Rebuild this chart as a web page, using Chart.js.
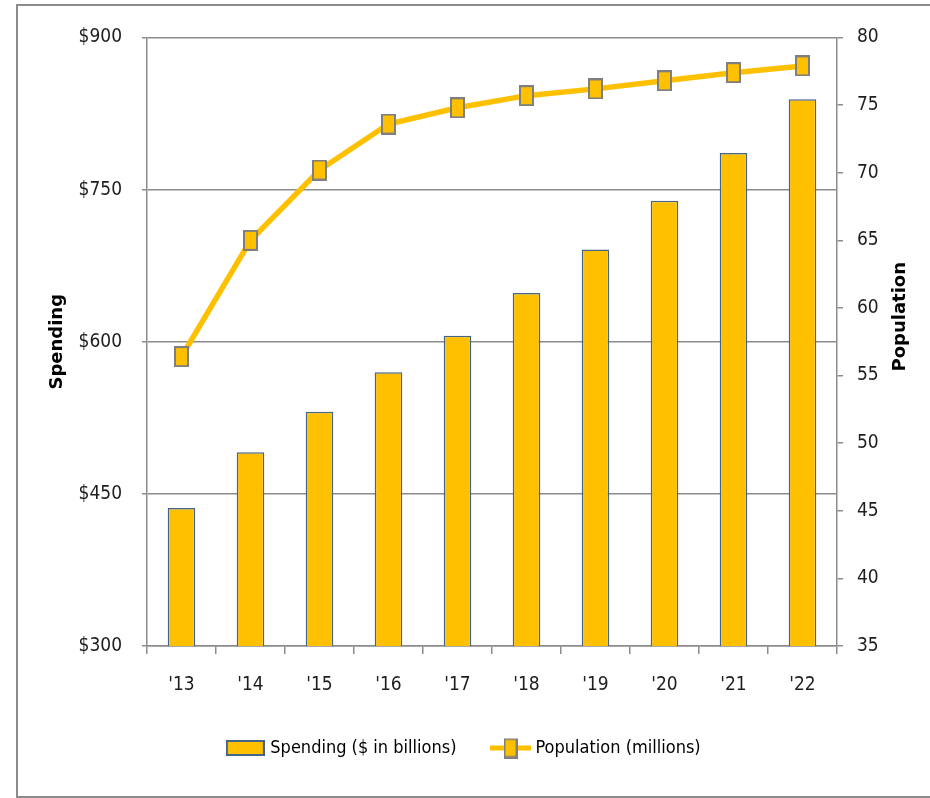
<!DOCTYPE html>
<html>
<head>
<meta charset="utf-8">
<script src="https://cdn.jsdelivr.net/npm/chart.js@4.4.1/dist/chart.umd.min.js"></script>
<style>
  html, body { margin: 0; padding: 0; background: #fff; }
  #wrap { position: relative; width: 930px; height: 798px; overflow: hidden; }
  #frame { position: absolute; left: 16px; top: 4px; width: 960px; height: 790px; border: 2px solid #8c8c8c; }
  canvas { position: absolute; left: 0; top: 0; }
</style>
</head>
<body>
<div id="wrap">
  <div id="frame"></div>
  <canvas id="chart" width="930" height="798"></canvas>
</div>
<script>
// data
const years = ["'13", "'14", "'15", "'16", "'17", "'18", "'19", "'20", "'21", "'22"];
const spending = [436, 491, 531, 570, 606, 648, 691, 739, 786, 839];
const population = [56.4, 65.0, 70.2, 73.6, 74.8, 75.7, 76.2, 76.8, 77.4, 77.9];
const spendingTicks = [300, 450, 600, 750, 900];
const populationTicks = [35, 40, 45, 50, 55, 60, 65, 70, 75, 80];

const GOLD = '#FFC000';
const BAR_EDGE = '#45648a';
const GREY = '#8c8c8c';
const INK = '#1e1e1e';
const FONT = "'Liberation Sans Narrow', 'DejaVu Sans Condensed', 'Liberation Sans', sans-serif";

// square-ish marker like the original
function makeMarker(w, h) {
    const c = document.createElement('canvas');
    c.width = w; c.height = h;
    const g = c.getContext('2d');
    g.fillStyle = GOLD;
    g.fillRect(1, 1, w - 2, h - 2);
    g.strokeStyle = '#7f7f7f';
    g.lineWidth = 2;
    g.strokeRect(1, 1, w - 2, h - 2);
    return c;
}

function barIcon() {
    const c = document.createElement('canvas');
    c.width = 39; c.height = 16;
    const g = c.getContext('2d');
    g.fillStyle = GOLD;
    g.fillRect(1, 1, 37, 14);
    g.strokeStyle = BAR_EDGE;
    g.lineWidth = 2;
    g.strokeRect(1, 1, 37, 14);
    return c;
}

function lineIcon() {
    const c = document.createElement('canvas');
    c.width = 41; c.height = 21;
    const g = c.getContext('2d');
    g.strokeStyle = GOLD;
    g.lineWidth = 5;
    g.beginPath();
    g.moveTo(0, 10.5);
    g.lineTo(41, 10.5);
    g.stroke();
    g.drawImage(makeMarker(14, 20), 13.5, 0.5);
    return c;
}

// right-hand title reads bottom-to-top like the left one
const popTitle = {
    id: 'popTitle',
    afterDraw(chart) {
        const s = chart.scales.y1;
        const ctx = chart.ctx;
        ctx.save();
        ctx.translate(s.right - 30, (s.top + s.bottom) / 2 - 25);
        ctx.rotate(-Math.PI / 2);
        ctx.font = "bold 18px 'DejaVu Sans', sans-serif";
        ctx.fillStyle = '#000';
        ctx.textAlign = 'center';
        ctx.textBaseline = 'middle';
        ctx.fillText('Population', 0, 0);
        ctx.restore();
    }
};

const ctx = document.getElementById('chart').getContext('2d');
const chart = new Chart(ctx, {
    type: 'bar',
    data: {
        labels: years,
        datasets: [{
            label: 'Spending ($ in billions)',
            data: spending,
            yAxisID: 'y',
            backgroundColor: GOLD,
            borderColor: BAR_EDGE,
            borderWidth: 1.5,
            barPercentage: 0.4,
            categoryPercentage: 1,
            order: 1
        }, {
            type: 'line',
            label: 'Population (millions)',
            data: population,
            yAxisID: 'y1',
            borderColor: GOLD,
            borderWidth: 5.5,
            tension: 0,
            pointStyle: makeMarker(15, 21),
            pointRadius: 8,
            order: 0
        }]
    },
    options: {
        responsive: false,
        animation: false,
        layout: { padding: { top: 37.5, bottom: 31, left: 0, right: 0 } },
        plugins: {
            tooltip: { enabled: false },
            legend: {
                position: 'bottom',
                onClick: (e) => e.stopPropagation(),
                labels: {
                    usePointStyle: true,
                    pointStyleWidth: 32,
                    padding: 38,
                    color: INK,
                    font: { family: FONT, size: 18 },
                    generateLabels: () => [
                        { text: 'Spending ($ in billions)', pointStyle: barIcon(), hidden: false, datasetIndex: 0, lineWidth: 0 },
                        { text: 'Population (millions)', pointStyle: lineIcon(), hidden: false, datasetIndex: 1, lineWidth: 0 }
                    ]
                }
            }
        },
        scales: {
            x: {
                afterFit: (s) => { s.height = 55; },
                grid: { drawOnChartArea: false, tickLength: 8, color: GREY, lineWidth: 1.5 },
                border: { color: GREY, width: 1.5 },
                ticks: { color: INK, padding: 20, font: { family: FONT, size: 19 } }
            },
            y: {
                position: 'left',
                min: 300,
                max: 900,
                afterFit: (s) => { s.width = 147; },
                afterBuildTicks: (s) => { s.ticks = spendingTicks.map(v => ({ value: v })); },
                grid: { color: GREY, lineWidth: 1.5, tickLength: 5 },
                border: { color: GREY, width: 1.5 },
                ticks: {
                    color: INK,
                    padding: 20,
                    font: { family: FONT, size: 19 },
                    callback: (v) => '$' + v
                },
                title: {
                    display: true,
                    text: 'Spending',
                    color: '#000',
                    padding: { top: 47, bottom: 0 },
                    font: { family: "'DejaVu Sans', sans-serif", size: 18, weight: 'bold' }
                }
            },
            y1: {
                position: 'right',
                min: 35,
                max: 80,
                afterFit: (s) => { s.width = 93; },
                afterBuildTicks: (s) => { s.ticks = populationTicks.map(v => ({ value: v })); },
                grid: { drawOnChartArea: false, color: GREY, lineWidth: 1.5, tickLength: 6 },
                border: { color: GREY, width: 1.5 },
                ticks: { color: INK, padding: 14, font: { family: FONT, size: 19 } }
            }
        }
    },
    plugins: [popTitle]
});
</script>
</body>
</html>
